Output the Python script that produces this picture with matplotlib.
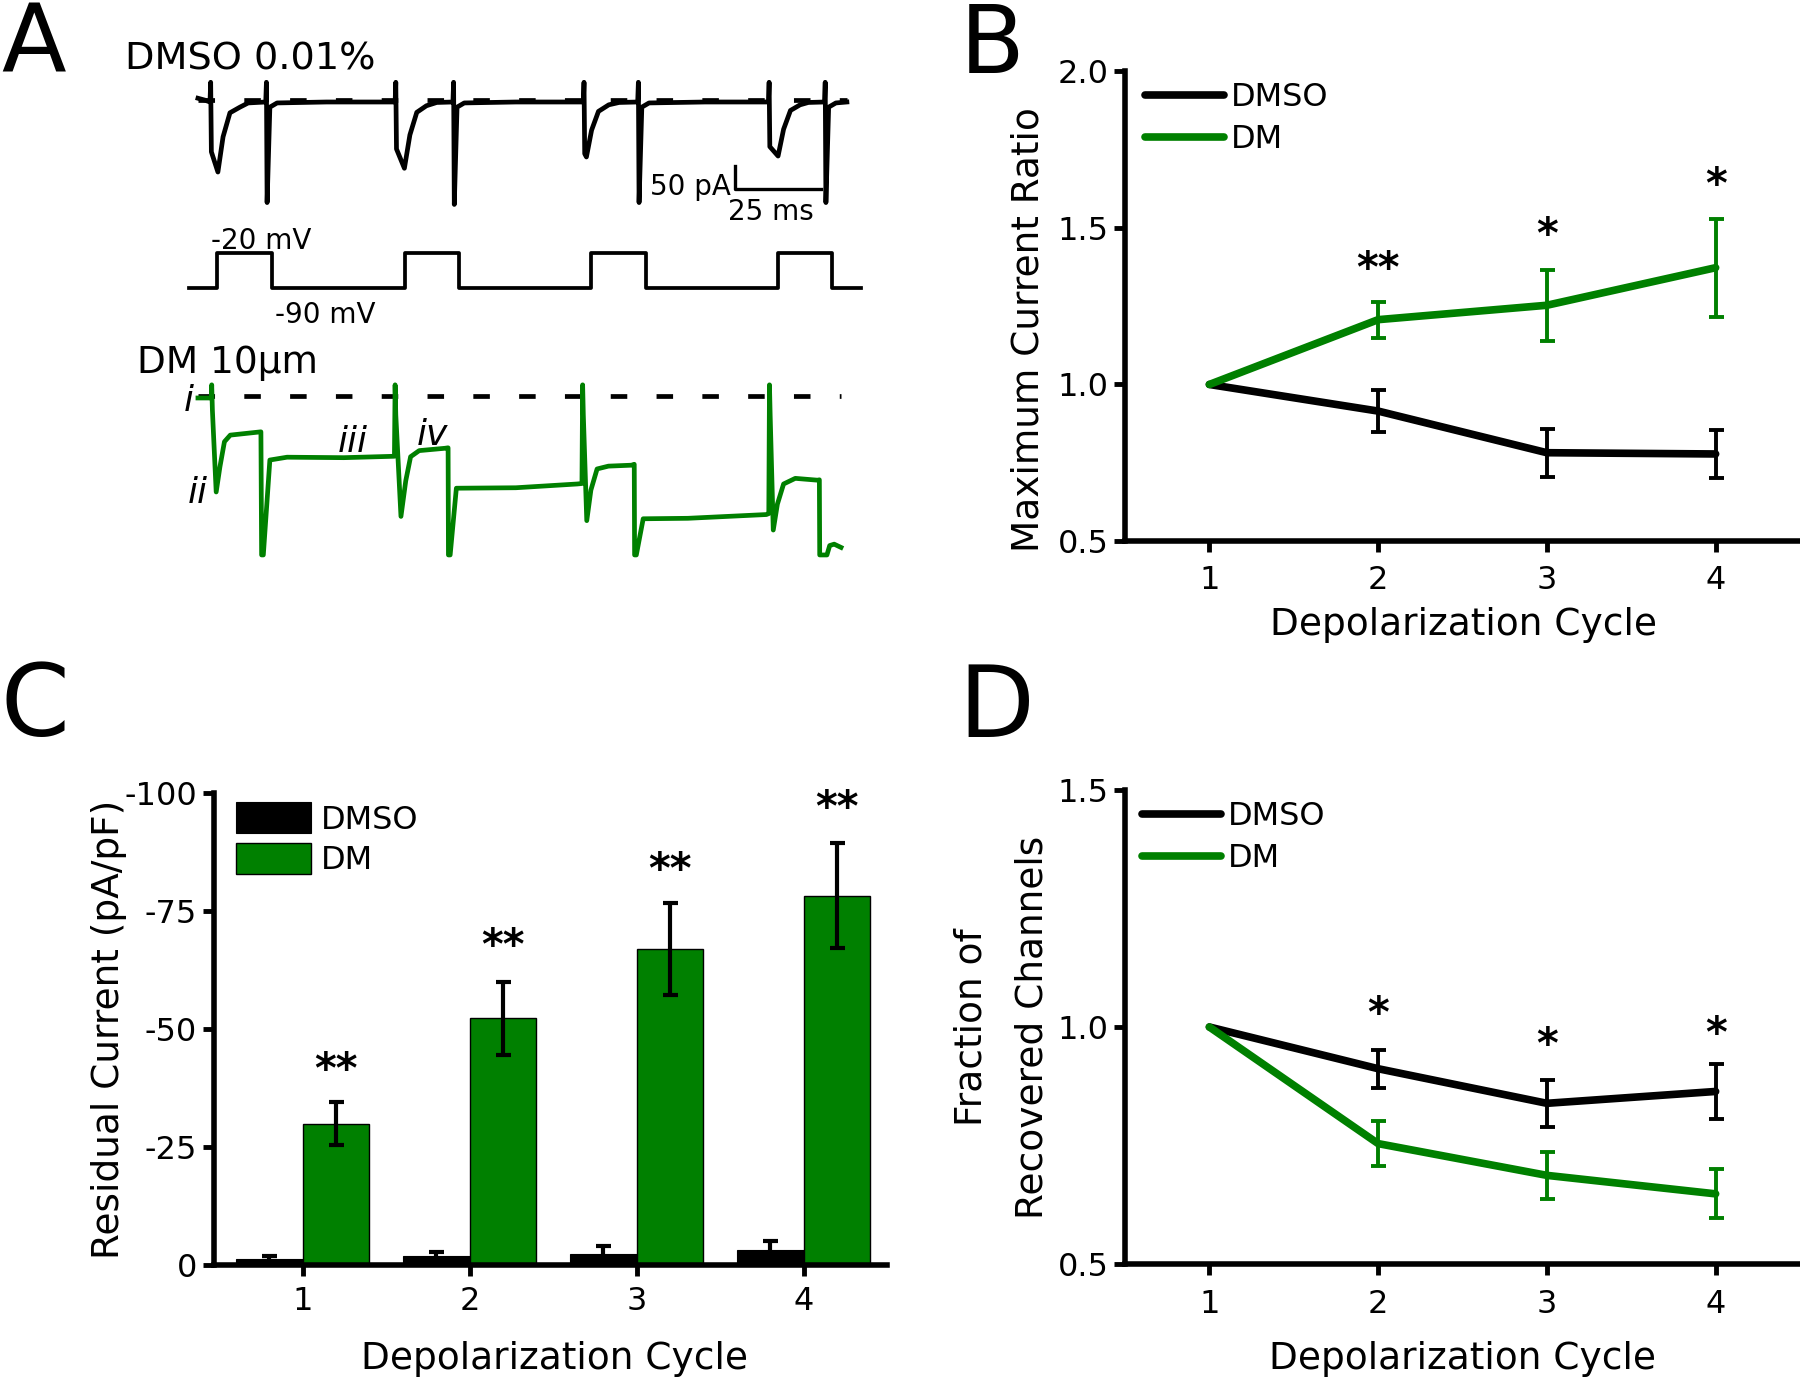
import matplotlib
matplotlib.use('Agg')
import matplotlib.pyplot as plt
import numpy as np

plt.rcParams['font.family'] = 'DejaVu Sans'
plt.rcParams['axes.unicode_minus'] = False

W, H = 1800, 1378
GREEN = '#008000'

# --- panel A: traces (time in ms, current in pA) ---
dmso_t = [2.6, 4.6, 6.1, 6.3, 6.5, 8.4, 9.9, 11.9, 14.8, 17.2, 22.3, 22.5, 22.7, 23.5, 25.6, 40.0, 59.9,
          60.1, 60.3, 62.6, 64.2, 66.2, 69.0, 72.0, 76.7, 76.9, 77.1, 77.9, 80.0, 95.0, 114.6,
          114.8, 115.0, 115.5, 117.0, 119.0, 122.0, 125.0, 130.4, 130.6, 130.8, 131.6, 133.7, 150.0, 168.4,
          168.6, 168.8, 171.2, 172.8, 174.8, 177.6, 180.0, 184.7, 184.9, 185.1, 185.9, 188.0, 191.2]
dmso_i = [8, 4, 0, 42, -106, -149, -74, -23, -11, -2, 0, 42, -214, -11, -2, 0, 0,
          42, -100, -141, -70, -22, -8, -1, 0, 42, -218, -11, -2, 0, 0,
          42, -110, -117, -60, -20, -6, -1, 0, 42, -214, -11, -2, 0, 0,
          42, -95, -115, -58, -18, -6, -1, 0, 42, -214, -11, -2, 0]

dm_t = [2.6, 6.5, 6.6, 6.8, 7.9, 9.0, 10.3, 12.0, 20.9, 21.1, 21.6, 23.5, 28.5, 45.0, 59.7,
        59.9, 60.1, 61.6, 63.0, 64.4, 66.9, 74.4, 75.3, 75.4, 75.9, 77.7, 95.0, 112.8, 114.2,
        114.4, 114.6, 115.6, 116.8, 118.6, 121.9, 128.6, 129.4, 129.5, 130.0, 132.0, 145.0, 167.8, 168.5,
        168.7, 168.9, 169.8, 171.0, 172.8, 176.2, 182.8, 183.2, 183.3, 185.4, 186.2, 187.5, 189.5]
dm_i = [-4, -4, 24, -30, -204, -150, -97, -83, -76, -338, -338, -136, -130, -131, -128,
        24, -40, -256, -180, -129, -116, -111, -110, -338, -338, -196, -195, -187, -186,
        24, -40, -265, -200, -155, -149, -147, -145, -338, -338, -261, -260, -252, -250,
        24, -40, -285, -230, -187, -175, -179, -178, -338, -338, -318, -315, -322]

step_on = [8.1, 62.8, 116.9, 171.2]
step_off = [24.0, 78.5, 132.8, 186.9]
v_hold, v_test = -90, -20
protocol_end = 195.3

# --- panels B-D ---
cycles = [1, 2, 3, 4]

ratio_dmso = [1.0, 0.915, 0.782, 0.778]
ratio_dmso_err = [0.0, 0.066, 0.077, 0.078]
ratio_dm = [1.0, 1.207, 1.253, 1.373]
ratio_dm_err = [0.0, 0.057, 0.113, 0.157]
stars_b = ['', '**', '*', '*']
stars_b_y = [None, 1.40, 1.51, 1.67]

resid_dmso = [-1.4, -1.9, -2.5, -3.2]
resid_dmso_err = [0.5, 1.0, 1.6, 2.0]
resid_dm = [-30.0, -52.3, -67.0, -78.3]
resid_dm_err = [4.5, 7.8, 9.8, 11.1]
stars_c = ['**', '**', '**', '**']
stars_c_y = [-43.4, -69.7, -85.8, -99.0]

frac_dmso = [1.0, 0.912, 0.839, 0.864]
frac_dmso_err = [0.0, 0.040, 0.050, 0.058]
frac_dm = [1.0, 0.754, 0.687, 0.648]
frac_dm_err = [0.0, 0.048, 0.050, 0.052]
stars_d = ['', '*', '*', '*']
stars_d_y = [None, 1.049, 0.983, 1.007]


def rect(left, right, top, bottom):
    return [left / W, 1 - bottom / H, (right - left) / W, (bottom - top) / H]


def fxy(x, y):
    return x / W, 1 - y / H


fig = plt.figure(figsize=(W / 100, H / 100), dpi=100)

# ---------------- A ----------------
a1 = fig.add_axes(rect(189, 861, 73.8, 214.8))
a1.set_xlim(0, protocol_end)
a1.set_ylim(-240, 60)
a1.axis('off')
a1.plot(dmso_t, dmso_i, color='k', lw=3.4, clip_on=False)
a1.plot([dmso_t[0], dmso_t[-1]], [5, 5], color='k', lw=3.4, dashes=(3.5, 6.2), clip_on=False)
# scale bar: 50 pA / 25 ms
a1.plot([158.7, 158.7, 183.7], [-136, -186, -186], color='k', lw=2.4, clip_on=False)

a2 = fig.add_axes(rect(189, 861, 248, 293))
a2.set_xlim(0, protocol_end)
a2.set_ylim(-100, -10)
a2.axis('off')
pt, pv = [0], [v_hold]
for on, off in zip(step_on, step_off):
    pt += [on, on, off, off]
    pv += [v_hold, v_test, v_test, v_hold]
pt.append(protocol_end)
pv.append(v_hold)
a2.plot(pt, pv, color='k', lw=2.7, clip_on=False)

a3 = fig.add_axes(rect(189, 861, 377.3, 565.3))
a3.set_xlim(0, protocol_end)
a3.set_ylim(-360, 40)
a3.axis('off')
a3.plot([dm_t[0], dm_t[-1]], [0, 0], color='k', lw=3.4, dashes=(3.5, 6.2), clip_on=False)
a3.plot(dm_t, dm_i, color=GREEN, lw=3.4, clip_on=False)

fig.text(*fxy(125, 69), 'DMSO 0.01%', fontsize=27.5, va='baseline')
fig.text(*fxy(137, 373), 'DM 10\u03bcm', fontsize=27, va='baseline')
fig.text(*fxy(211, 249), '-20 mV', fontsize=20, va='baseline')
fig.text(*fxy(275, 323), '-90 mV', fontsize=20, va='baseline')
fig.text(*fxy(731, 195), '50 pA', fontsize=20, ha='right', va='baseline')
fig.text(*fxy(728, 220), '25 ms', fontsize=20, va='baseline')
for s, x, y in [('i', 184, 411), ('ii', 188, 503), ('iii', 338, 452), ('iv', 417, 445)]:
    fig.text(*fxy(x, y), s, fontsize=26, style='italic', va='baseline')

for s, x, y in [('A', 1, 73), ('B', 960, 73), ('C', 0.5, 736), ('D', 958, 737)]:
    fig.text(*fxy(x, y), s, fontsize=68 if y < 100 else 71, va='baseline')


def style_axes(ax, xpad):
    for side in ('top', 'right'):
        ax.spines[side].set_visible(False)
    for side in ('left', 'bottom'):
        ax.spines[side].set_linewidth(4)
    ax.tick_params(direction='out', length=8, width=3.5, labelsize=23)
    ax.tick_params(axis='x', pad=xpad)
    ax.tick_params(axis='y', pad=4)


def stars(ax, xs, ys, labels):
    for x, y, s in zip(xs, ys, labels):
        if s:
            ax.annotate(s, (x, y), xytext=(0, -0.55 * 30), textcoords='offset points',
                        ha='center', va='baseline', fontsize=30, fontweight='bold')


def line_panel(ax, dmso, dmso_err, dm, dm_err):
    ax.plot(cycles, dmso, color='k', lw=5.5, solid_capstyle='round', label='DMSO', zorder=3)
    ax.plot(cycles, dm, color=GREEN, lw=5.5, solid_capstyle='round', label='DM', zorder=3)
    ax.errorbar(cycles[1:], dmso[1:], yerr=dmso_err[1:], fmt='none', ecolor='k',
                elinewidth=2.8, capsize=5.4, capthick=2.8, zorder=2)
    ax.errorbar(cycles[1:], dm[1:], yerr=dm_err[1:], fmt='none', ecolor=GREEN,
                elinewidth=2.8, capsize=5.4, capthick=2.8, zorder=2)
    ax.set_xlim(0.5, 4.5)
    ax.set_xticks(cycles)


# ---------------- B ----------------
axB = fig.add_axes(rect(1125, 1800, 71.4, 541))
line_panel(axB, ratio_dmso, ratio_dmso_err, ratio_dm, ratio_dm_err)
axB.set_ylim(0.5, 2.0)
axB.set_yticks([0.5, 1.0, 1.5, 2.0])
axB.set_yticklabels(['0.5', '1.0', '1.5', '2.0'])
style_axes(axB, 9)
stars(axB, cycles, stars_b_y, stars_b)
axB.legend(loc='upper left', bbox_to_anchor=(0.0296, 0.977), frameon=False, fontsize=23,
           handlelength=2.47, handletextpad=0.22, labelspacing=0.34, borderpad=0, borderaxespad=0)
axB.set_xlabel('Depolarization Cycle', fontsize=27)
axB.xaxis.set_label_coords(0.501, -0.140)
axB.set_ylabel('Maximum Current Ratio', fontsize=27)
axB.yaxis.set_label_coords(-0.117, 0.451)

# ---------------- C ----------------
axC = fig.add_axes(rect(213.5, 887, 793.2, 1265.4))
xc = np.array(cycles)
ekw = dict(ecolor='k', elinewidth=3, capsize=5.4, capthick=3)
axC.bar(xc - 0.2, resid_dmso, 0.4, color='k', edgecolor='k', lw=0.8, yerr=resid_dmso_err,
        error_kw=ekw, label='DMSO')
axC.bar(xc + 0.2, resid_dm, 0.4, color=GREEN, edgecolor='k', lw=1.0, yerr=resid_dm_err,
        error_kw=ekw, label='DM')
axC.set_xlim(0.467, 4.5)
axC.set_ylim(0, -100)
axC.set_xticks(cycles)
axC.set_yticks([0, -25, -50, -75, -100])
axC.set_yticklabels(['0', '-25', '-50', '-75', '-100'])
style_axes(axC, 7)
stars(axC, xc + 0.2, stars_c_y, stars_c)
axC.legend(loc='upper left', bbox_to_anchor=(0.034, 0.981), frameon=False, fontsize=23,
           handlelength=2.35, handleheight=1.125, handletextpad=0.3, labelspacing=0.22,
           borderpad=0, borderaxespad=0)
axC.set_xlabel('Depolarization Cycle', fontsize=27)
axC.xaxis.set_label_coords(0.5056, -0.160)
axC.set_ylabel('Residual Current (pA/pF)', fontsize=27)
axC.yaxis.set_label_coords(-0.128, 0.5)

# ---------------- D ----------------
axD = fig.add_axes(rect(1125, 1800, 790, 1264))
line_panel(axD, frac_dmso, frac_dmso_err, frac_dm, frac_dm_err)
axD.set_ylim(0.5, 1.5)
axD.set_yticks([0.5, 1.0, 1.5])
axD.set_yticklabels(['0.5', '1.0', '1.5'])
style_axes(axD, 10)
stars(axD, cycles, stars_d_y, stars_d)
axD.legend(loc='upper left', bbox_to_anchor=(0.025, 0.977), frameon=False, fontsize=23,
           handlelength=2.47, handletextpad=0.22, labelspacing=0.34, borderpad=0, borderaxespad=0)
axD.set_xlabel('Depolarization Cycle', fontsize=27)
axD.xaxis.set_label_coords(0.4995, -0.162)
axD.set_ylabel('Fraction of\nRecovered Channels', fontsize=27, linespacing=1.9)
axD.yaxis.set_label_coords(-0.110, 0.5)

fig.savefig('out.png', dpi=100)
